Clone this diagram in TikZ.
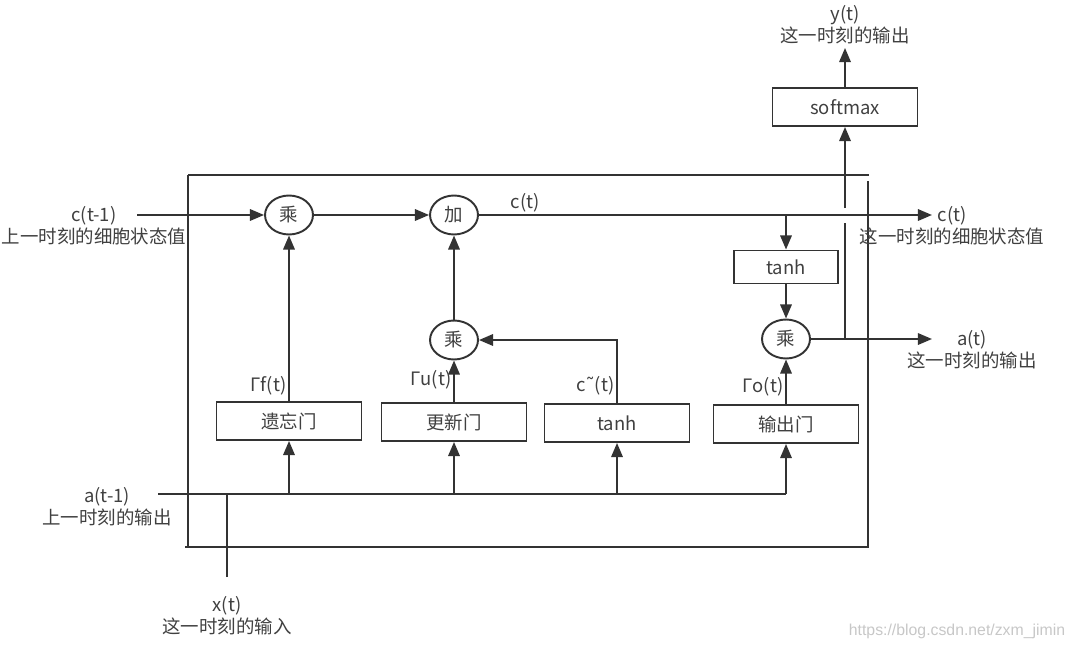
\documentclass[tikz,border=0pt]{standalone}
\usepackage{fontspec}
\setmainfont{Noto Sans CJK SC}
\newfontfamily\wmfont{Liberation Sans}
\newfontfamily\symfont{DejaVu Sans}
\usetikzlibrary{shapes.geometric, positioning, arrows.meta}

\begin{document}
\begin{tikzpicture}[x=0.02cm, y=-0.02cm,
  font=\fontsize{10.5}{12.5}\selectfont, color=black!80, text=black!75,
  line width=1.1pt,
  op/.style={ellipse, draw, minimum width=0.96cm, minimum height=0.78cm, inner sep=0pt},
  gate/.style={draw, rectangle, minimum width=2.9cm, minimum height=0.76cm, inner sep=0pt},
  io/.style={align=center, inner sep=0pt},
  tag/.style={inner sep=1pt},
  arr/.style={-{Triangle[length=8pt,width=6.5pt]}}]

\useasboundingbox (0,0) rectangle (1074,649);

% ---------- cell frame (open at the top right corner) ----------
\draw (188,175) -- (869,175);
\draw (868,181) -- (868,547) -- (185,547);
\draw (188,175) -- (188,547);

% ---------- operators ----------
\node[op] (mulf) at (289,215) {乘};
\node[op] (add)  at (454,215) {加};
\node[op] (mulu) at (454,340) {乘};
\node[op] (mulo) at (786,339) {乘};

% ---------- gates ----------
\node[gate] (forget) at (289,421) {遗忘门};
\node[gate] (update) at (454,422) {更新门};
\node[gate] (cand)   at (617,423) {tanh};
\node[gate] (outg)   at (786,424) {输出门};
\node[gate, minimum width=2.08cm, minimum height=0.66cm] (tanhc) at (786,267) {tanh};
\node[gate] (soft) at (845,107) {softmax};

% ---------- free ends ----------
\coordinate (cin)  at (137,215);
\coordinate (ain)  at (158,494);
\coordinate (xin)  at (227,577);
\coordinate (cout) at (932,215);
\coordinate (aout) at (932,339);
\coordinate (yout) at (845,48);
\coordinate (jumplo) at (845,223);
\coordinate (jumphi) at (845,208);

% ---------- cell state path ----------
\draw[arr] (cin) -- (mulf);
\draw[arr] (mulf) -- (add);
\draw[arr] (add) -- (cout);
\node[tag] (ctlbl) at (525,203) {c(t)};

% ---------- inputs a(t-1), x(t) ----------
\draw (ain) -- (outg.south |- ain);
\draw (xin) -- (xin |- ain);
\foreach \g in {forget, update, cand, outg}
  \draw[arr] (\g.south |- ain) -- (\g.south);

% ---------- gate outputs ----------
\draw[arr] (forget) -- (mulf);
\draw[arr] (update) -- (mulu);
\draw[arr] (mulu) -- (add);
\draw[arr] (cand.north) |- (mulu.east);
\draw[arr] (outg) -- (mulo);

\node[tag, above left=2pt and 0pt of forget.north] (gf) {Γf(t)};
\node[tag, above left=6pt and 0pt of update.north] (gu) {Γu(t)};
\node[tag, above left=3pt and 0pt of cand.north] (gc) {c{\symfont\char"02DC}(t)};
\node[tag, above left=3pt and 0pt of outg.north] (go) {Γo(t)};

% ---------- output side ----------
\draw[arr] (tanhc |- add) -- (tanhc);
\draw[arr] (tanhc) -- (mulo);
\draw[arr] (mulo) -- (aout);
\draw (mulo.east -| jumplo) -- (jumplo);
\draw[arr] (jumphi) -- (soft);
\draw[arr] (soft) -- (yout);

% ---------- labels ----------
\node[io] (cprev) at (94,226) {c(t-1)\\上一时刻的细胞状态值};
\node[io] (aprev) at (107,507) {a(t-1)\\上一时刻的输出};
\node[io] (xnow)  at (227,616) {x(t)\\这一时刻的输入};
\node[io] (ynow)  at (845,25)  {y(t)\\这一时刻的输出};
\node[io] (cnow)  at (952,226) {c(t)\\这一时刻的细胞状态值};
\node[io] (anow)  at (972,350) {a(t)\\这一时刻的输出};

\node[text=black!22, font=\fontsize{9}{11}\selectfont\wmfont] (wm) at (957,631) {https://blog.csdn.net/zxm\_jimin};

\end{tikzpicture}
\end{document}
